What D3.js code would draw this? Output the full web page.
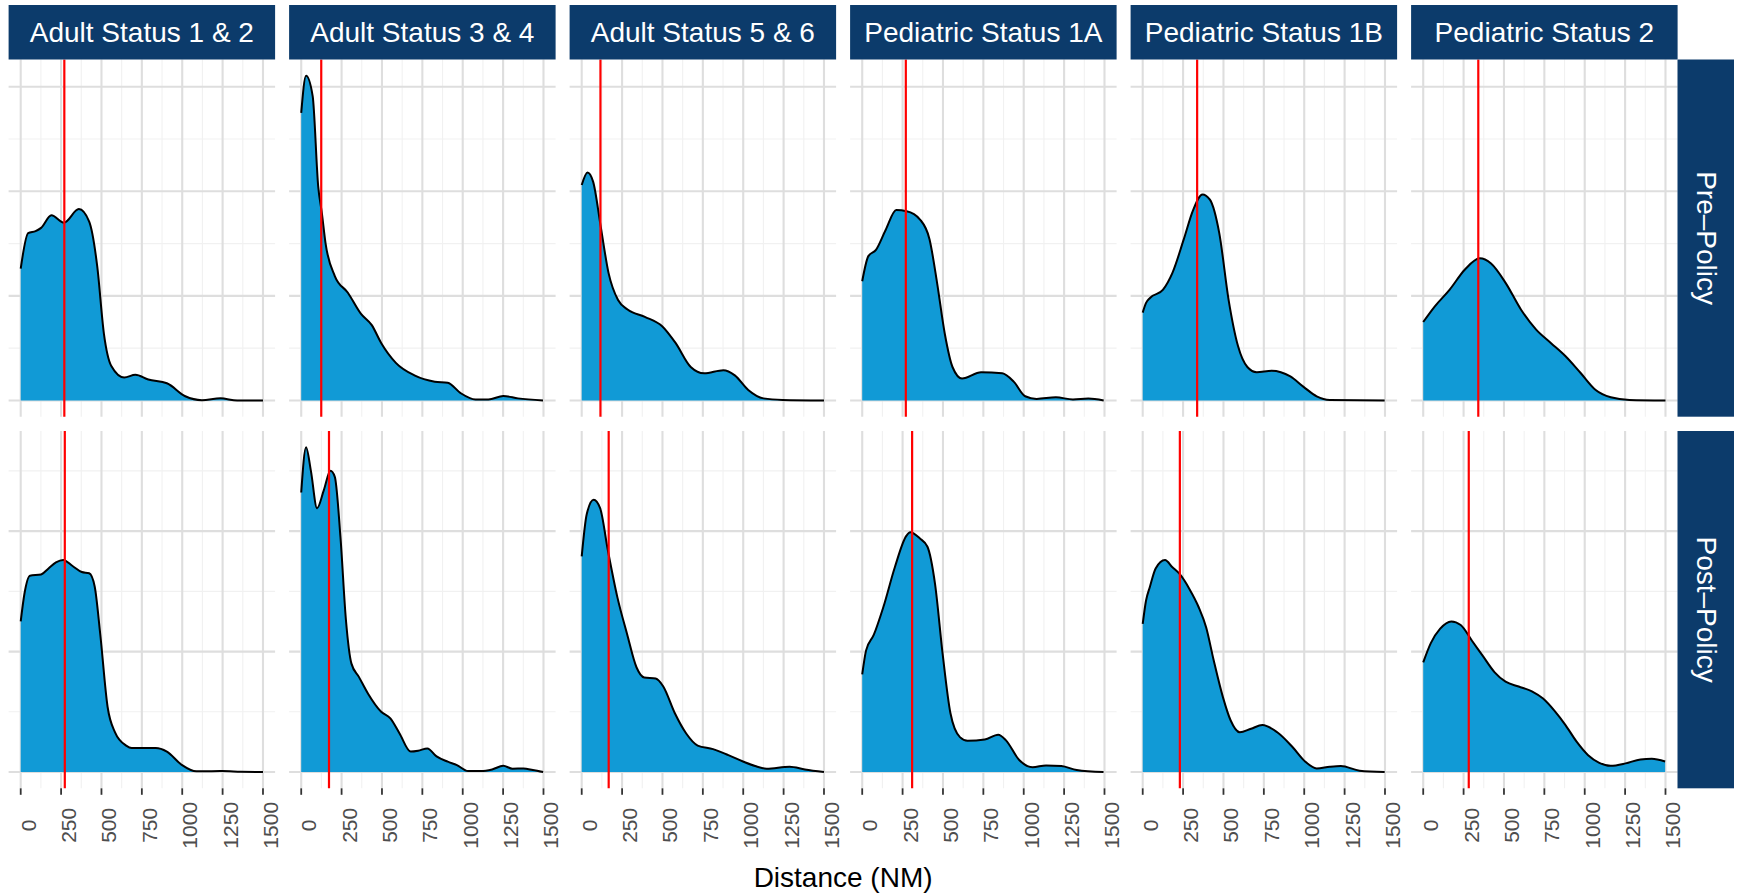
<!DOCTYPE html>
<html>
<head>
<meta charset="utf-8">
<script src="https://cdn.jsdelivr.net/npm/d3@7"></script>
<style>
  body { margin: 0; background: #fff; }
  svg { display: block; font-family: "Liberation Sans", Arial, Helvetica, sans-serif; }
</style>
</head>
<body>
<div id="chart"></div>
<script>
// facets
const statuses = ["Adult Status 1 & 2", "Adult Status 3 & 4", "Adult Status 5 & 6",
                  "Pediatric Status 1A", "Pediatric Status 1B", "Pediatric Status 2"];
const periods = ["Pre\u2013Policy", "Post\u2013Policy"];

// axis breaks
const xTicks = [0, 250, 500, 750, 1000, 1250, 1500];
const xMinor = [125, 375, 625, 875, 1125, 1375];
const yMajor = [0, 1, 2, 3];
const yMinor = [0.5, 1.5, 2.5];

// density curves: [distance NM, density x 1000]
const adult12Pre = [[0,1.26],[46,1.60],[92,1.62],[126,1.65],[190,1.77],[268,1.70],[360,1.83],[424,1.71],[474,1.28],[515,0.64],[561,0.33],[641,0.22],[710,0.245],[790,0.20],[905,0.165],[1019,0.04],[1122,0.003],[1237,0.02],[1340,0],[1500,0]];
const adult34Pre = [[0,2.75],[30,3.105],[71,2.91],[105,2.05],[128,1.79],[151,1.50],[208,1.19],[289,1.03],[369,0.83],[437,0.72],[495,0.55],[586,0.36],[701,0.24],[827,0.18],[907,0.17],[987,0.07],[1079,0.01],[1159,0.01],[1251,0.043],[1342,0.02],[1497,0]];
const adult56Pre = [[0,2.06],[36,2.18],[71,2.09],[118,1.66],[166,1.22],[225,0.96],[284,0.87],[391,0.80],[498,0.71],[581,0.55],[675,0.32],[758,0.26],[877,0.29],[948,0.24],[1031,0.10],[1125,0.02],[1244,0.005],[1500,0]];
const ped1aPre = [[0,1.14],[38,1.38],[85,1.44],[145,1.63],[211,1.82],[275,1.81],[358,1.73],[417,1.54],[464,1.12],[511,0.64],[559,0.32],[618,0.21],[736,0.27],[867,0.26],[938,0.18],[1009,0.04],[1080,0.015],[1199,0.03],[1305,0.01],[1400,0.018],[1495,0]];
const ped1bPre = [[0,0.84],[20,0.93],[45,0.98],[126,1.06],[184,1.22],[254,1.54],[312,1.82],[370,1.97],[416,1.92],[474,1.60],[532,0.96],[590,0.52],[648,0.32],[706,0.27],[799,0.285],[914,0.23],[996,0.13],[1077,0.04],[1158,0.005],[1498,0]];
const ped2Pre = [[0,0.75],[72,0.90],[164,1.06],[257,1.25],[350,1.36],[420,1.31],[512,1.12],[605,0.87],[698,0.68],[790,0.55],[883,0.42],[976,0.26],[1068,0.10],[1161,0.03],[1277,0.005],[1500,0]];

const adult12Post = [[0,1.25],[23,1.48],[57,1.63],[126,1.64],[172,1.69],[218,1.74],[263,1.76],[321,1.71],[378,1.66],[424,1.65],[458,1.54],[492,1.15],[538,0.54],[584,0.33],[653,0.22],[687,0.20],[836,0.20],[905,0.17],[997,0.06],[1088,0.006],[1248,0.008],[1363,0.003],[1500,0]];
const adult34Post = [[0,2.32],[30,2.696],[60,2.50],[98,2.19],[140,2.34],[181,2.50],[208,2.45],[243,1.95],[277,1.26],[311,0.90],[357,0.79],[414,0.65],[495,0.50],[552,0.445],[609,0.32],[678,0.17],[724,0.177],[781,0.196],[838,0.13],[907,0.086],[964,0.058],[1033,0.008],[1113,0.008],[1182,0.022],[1251,0.052],[1308,0.028],[1376,0.03],[1434,0.017],[1498,0]];
const adult56Post = [[0,1.79],[31,2.14],[74,2.26],[114,2.19],[162,1.84],[221,1.45],[280,1.15],[339,0.87],[387,0.785],[458,0.776],[505,0.71],[576,0.49],[647,0.32],[718,0.22],[813,0.19],[908,0.14],[1002,0.086],[1074,0.05],[1145,0.028],[1287,0.044],[1382,0.022],[1500,0]];
const ped1aPost = [[0,0.81],[24,1.01],[72,1.14],[131,1.37],[202,1.70],[273,1.96],[297,1.99],[356,1.94],[404,1.87],[451,1.56],[498,0.98],[546,0.49],[605,0.29],[652,0.26],[759,0.27],[842,0.31],[889,0.265],[972,0.10],[1055,0.04],[1138,0.055],[1233,0.05],[1328,0.017],[1494,0]];
const ped1bPost = [[0,1.23],[20,1.42],[45,1.54],[80,1.69],[138,1.76],[184,1.70],[231,1.64],[289,1.52],[346,1.37],[393,1.20],[439,0.93],[497,0.62],[544,0.43],[601,0.33],[671,0.36],[741,0.39],[833,0.33],[926,0.21],[1007,0.086],[1077,0.03],[1158,0.044],[1227,0.05],[1343,0.011],[1498,0]];
const ped2Post = [[0,0.91],[47,1.07],[105,1.19],[174,1.25],[232,1.22],[302,1.09],[371,0.96],[441,0.83],[510,0.75],[591,0.71],[673,0.67],[742,0.61],[812,0.51],[881,0.39],[951,0.25],[1021,0.14],[1090,0.077],[1160,0.052],[1253,0.072],[1345,0.105],[1415,0.11],[1498,0.088]];

// medians (red lines), NM
const medianPre = [270, 124, 116, 270, 337, 341];
const medianPost = [273, 172, 167, 309, 230, 282];

const curves = [
  [adult12Pre, adult34Pre, adult56Pre, ped1aPre, ped1bPre, ped2Pre],
  [adult12Post, adult34Post, adult56Post, ped1aPost, ped1bPost, ped2Post]
];
const medians = [medianPre, medianPost];

// layout
const WIDTH = 1737, HEIGHT = 893;
const PANEL = { LEFT: 8.6, WIDTH: 266.5, STEP: 280.5 };
const ROWS = [{ top: 59.5, bottom: 416.7 }, { top: 431, bottom: 788.3 }];
const STRIP = { TOP: 5, X0: 1677.5, X1: 1734 };
const NAVY = "#0c3b6b";

const svg = d3.select("#chart")
  .append("svg")
    .attr("width", WIDTH)
    .attr("height", HEIGHT);

ROWS.forEach((row, r) => {
  // y scale per row (free scales), with 5% expansion
  const yMax = d3.max(curves[r], c => d3.max(c, d => d[1]));
  const y = d3.scaleLinear()
    .domain([-0.05 * yMax, 1.05 * yMax])
    .range([row.bottom, row.top]);

  statuses.forEach((status, c) => {
    const left = PANEL.LEFT + c * PANEL.STEP;
    const x = d3.scaleLinear()
      .domain([-75, 1575])
      .range([left, left + PANEL.WIDTH]);

    const g = svg.append("g");

    // grid
    g.selectAll(".ymin").data(yMinor.filter(v => v <= y.domain()[1]))
      .join("line")
        .attr("x1", left).attr("x2", left + PANEL.WIDTH)
        .attr("y1", d => y(d)).attr("y2", d => y(d))
        .attr("stroke", "#f1f1f1").attr("stroke-width", 1.1);
    g.selectAll(".xmin").data(xMinor)
      .join("line")
        .attr("x1", d => x(d)).attr("x2", d => x(d))
        .attr("y1", row.top).attr("y2", row.bottom)
        .attr("stroke", "#f1f1f1").attr("stroke-width", 1.1);
    g.selectAll(".ymaj").data(yMajor.filter(v => v <= y.domain()[1]))
      .join("line")
        .attr("x1", left).attr("x2", left + PANEL.WIDTH)
        .attr("y1", d => y(d)).attr("y2", d => y(d))
        .attr("stroke", "#dedede").attr("stroke-width", 2.1);
    g.selectAll(".xmaj").data(xTicks)
      .join("line")
        .attr("x1", d => x(d)).attr("x2", d => x(d))
        .attr("y1", row.top).attr("y2", row.bottom)
        .attr("stroke", "#dedede").attr("stroke-width", 2.1);

    // density
    const data = curves[r][c];
    const area = d3.area()
      .x(d => x(d[0]))
      .y0(y(0))
      .y1(d => y(d[1]))
      .curve(d3.curveMonotoneX);
    const line = d3.line()
      .x(d => x(d[0]))
      .y(d => y(d[1]))
      .curve(d3.curveMonotoneX);

    g.append("path").datum(data)
      .attr("d", area)
      .attr("fill", "#119ad6");
    g.append("path").datum(data)
      .attr("d", line)
      .attr("fill", "none")
      .attr("stroke", "#000")
      .attr("stroke-width", 2);

    // median
    g.append("line")
      .attr("x1", x(medians[r][c])).attr("x2", x(medians[r][c]))
      .attr("y1", row.top).attr("y2", row.bottom)
      .attr("stroke", "#ff0000").attr("stroke-width", 2.2);

    // column strips
    if (r === 0) {
      g.append("rect")
        .attr("x", left).attr("y", STRIP.TOP)
        .attr("width", PANEL.WIDTH).attr("height", row.top - STRIP.TOP)
        .attr("fill", NAVY);
      g.append("text")
        .attr("x", left + PANEL.WIDTH / 2)
        .attr("y", 41.7)
        .attr("text-anchor", "middle")
        .attr("fill", "#fff")
        .attr("font-size", "28px")
        .text(status);
    }

    // bottom axis
    if (r === ROWS.length - 1) {
      g.selectAll(".tick").data(xTicks)
        .join("line")
          .attr("x1", d => x(d)).attr("x2", d => x(d))
          .attr("y1", row.bottom).attr("y2", row.bottom + 6.5)
          .attr("stroke", "#333").attr("stroke-width", 1.8);
      g.selectAll(".lbl").data(xTicks)
        .join("text")
          .attr("transform", d => `translate(${x(d) + 15}, 825.3) rotate(-90)`)
          .attr("text-anchor", "middle")
          .attr("fill", "#4d4d4d")
          .attr("font-size", "21px")
          .text(d => d);
    }
  });

  // row strip
  svg.append("rect")
    .attr("x", STRIP.X0).attr("y", row.top)
    .attr("width", STRIP.X1 - STRIP.X0).attr("height", row.bottom - row.top)
    .attr("fill", NAVY);
  svg.append("text")
    .attr("transform", `translate(1697, ${(row.top + row.bottom) / 2}) rotate(90)`)
    .attr("text-anchor", "middle")
    .attr("fill", "#fff")
    .attr("font-size", "28px")
    .text(periods[r]);
});

// x axis title
svg.append("text")
  .attr("x", (PANEL.LEFT + 5 * PANEL.STEP + PANEL.WIDTH + PANEL.LEFT) / 2)
  .attr("y", 886.5)
  .attr("text-anchor", "middle")
  .attr("fill", "#000")
  .attr("font-size", "28px")
  .text("Distance (NM)");
</script>
</body>
</html>
